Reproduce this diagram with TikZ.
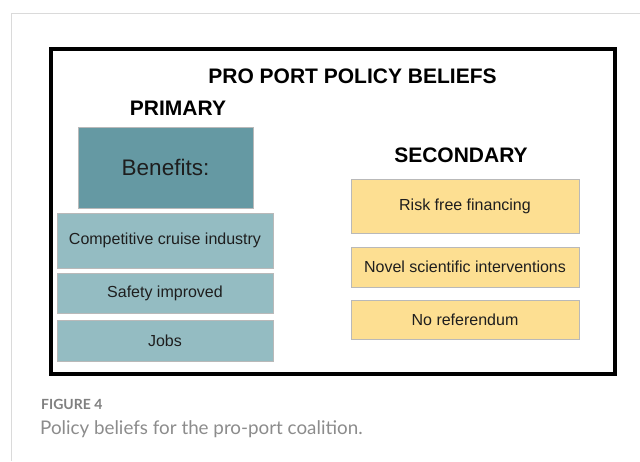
\documentclass[tikz,border=0pt]{standalone}
\usepackage{fontspec}
\setmainfont{Liberation Sans}
\newfontfamily\capfont{Lato}
\definecolor{tealdark}{RGB}{101,153,163}
\definecolor{teallight}{RGB}{148,188,194}
\definecolor{sand}{RGB}{253,223,146}
\definecolor{edgegray}{RGB}{185,185,185}
\definecolor{rulegray}{RGB}{218,218,218}
\definecolor{capgray}{RGB}{128,128,128}
\definecolor{captext}{RGB}{140,140,140}
\definecolor{inktext}{RGB}{30,30,30}
\begin{document}
\begin{tikzpicture}[x=1pt,y=-1pt,
  cell/.style={draw=edgegray,line width=0.8pt,inner sep=0pt,text=inktext,
    font=\fontsize{16}{19}\selectfont},
  heading/.style={anchor=base,font=\bfseries\fontsize{21}{25}\selectfont},
  capline/.style={anchor=base west,inner sep=0pt,text=capgray}]
\useasboundingbox (0,0) rectangle (640,461);
\fill[white] (0,0) rectangle (640,461);
% page rules
\draw[rulegray,line width=1pt] (640,13) -- (11,13) -- (11,461);
% frame
\draw[black,line width=4pt] (51,49) rectangle (614.5,373.5);
% headings
\node[heading] (title) at (352.5,83) {PRO PORT POLICY BELIEFS};
\node[heading] (prim) at (178,115) {PRIMARY};
\node[heading] (sec) at (461,162) {SECONDARY};
% primary column
\node[cell,fill=tealdark,minimum width=175pt,minimum height=81pt,
  font=\fontsize{22.5}{26}\selectfont] (ben) at (165.5,167.5) {\raisebox{-1.5pt}{Benefits:}};
\node[cell,fill=teallight,minimum width=216pt,minimum height=55pt] (comp) at (165,240.5) {\raisebox{-1.5pt}{Competitive cruise industry}};
\node[cell,fill=teallight,minimum width=216pt,minimum height=40pt] (safe) at (165,293) {\raisebox{-1pt}{Safety improved}};
\node[cell,fill=teallight,minimum width=216pt,minimum height=41pt] (jobs) at (165,340.5) {Jobs};
% secondary column
\node[cell,fill=sand,minimum width=228pt,minimum height=54pt] (risk) at (465,206) {\raisebox{-1pt}{Risk free financing}};
\node[cell,fill=sand,minimum width=228pt,minimum height=40pt] (novel) at (465,267) {Novel scientific interventions};
\node[cell,fill=sand,minimum width=228pt,minimum height=39pt] (noref) at (465,319.5) {No referendum};
% caption
\node[capline,font=\capfont\bfseries\fontsize{14}{16}\selectfont] (fig) at (41,409) {FIGURE 4};
\node[capline,text=captext,font=\capfont\fontsize{18.8}{22}\selectfont] (cap) at (40,434) {Policy beliefs for the pro-port coalition.};
\end{tikzpicture}
\end{document}
